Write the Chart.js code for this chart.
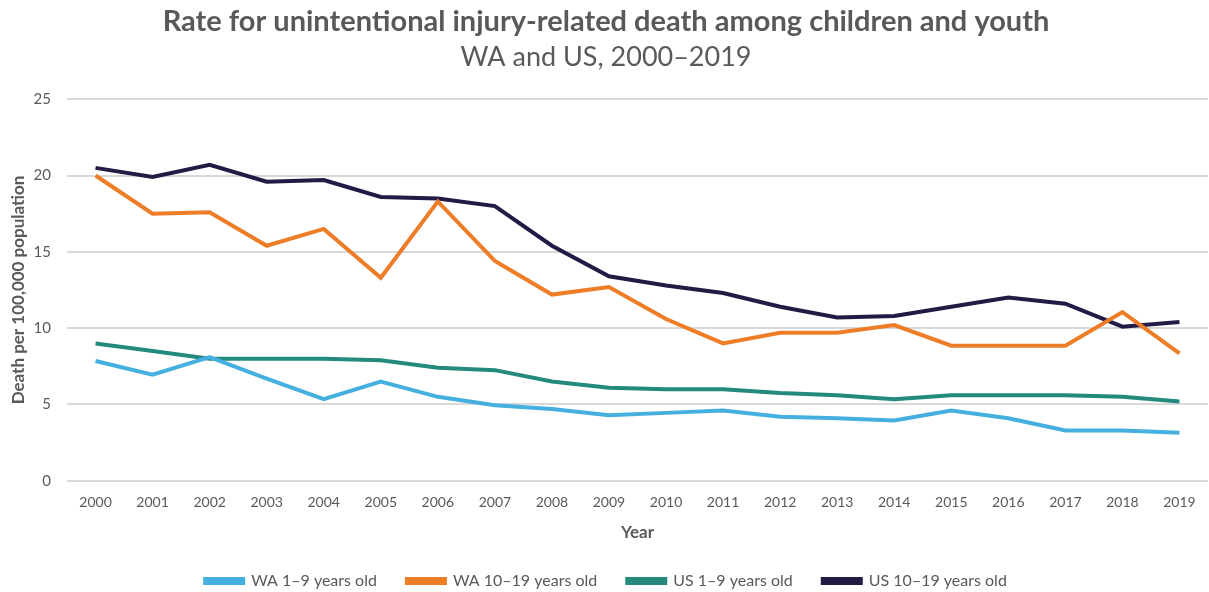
<!DOCTYPE html>
<html>
<head>
<meta charset="utf-8">
<script src="https://cdn.jsdelivr.net/npm/chart.js@4/dist/chart.umd.min.js"></script>
<style>
  html, body { margin: 0; padding: 0; background: #fff; }
  #wrap { width: 1209px; height: 592px; }
</style>
</head>
<body>
<div id="wrap"><canvas id="chart"></canvas></div>
<script>
// Injury death rates per 100,000
const years = ['2000', '2001', '2002', '2003', '2004', '2005', '2006', '2007', '2008', '2009',
               '2010', '2011', '2012', '2013', '2014', '2015', '2016', '2017', '2018', '2019'];

const wa1to9 = [7.85, 6.95, 8.1, 6.7, 5.35, 6.5, 5.5, 4.95, 4.7, 4.3,
                4.45, 4.6, 4.2, 4.1, 3.95, 4.6, 4.1, 3.3, 3.3, 3.15];
const wa10to19 = [20.0, 17.5, 17.6, 15.4, 16.5, 13.3, 18.3, 14.4, 12.2, 12.7,
                  10.6, 9.0, 9.7, 9.7, 10.2, 8.85, 8.85, 8.85, 11.05, 8.35];
const us1to9 = [9.0, 8.5, 8.0, 8.0, 8.0, 7.9, 7.4, 7.25, 6.5, 6.1,
                6.0, 6.0, 5.75, 5.6, 5.35, 5.6, 5.6, 5.6, 5.5, 5.2];
const us10to19 = [20.5, 19.9, 20.7, 19.6, 19.7, 18.6, 18.5, 18.0, 15.4, 13.4,
                  12.8, 12.3, 11.4, 10.7, 10.8, 11.4, 12.0, 11.6, 10.1, 10.4];

const yTicks = [0, 5, 10, 15, 20, 25];

const FONT = 'Lato, "Open Sans", sans-serif';
const TEXT = '#595959';

function series(label, data, color) {
    return {
        label,
        data,
        borderColor: color,
        backgroundColor: color,
        borderWidth: 4,
        pointRadius: 0,
        tension: 0,
        fill: false,
    };
}

new Chart(document.getElementById('chart'), {
    type: 'line',
    data: {
        labels: years,
        datasets: [
            series('WA 1\u20139 years old', wa1to9, '#45b0e0'),
            series('WA 10\u201319 years old', wa10to19, '#ee7d27'),
            series('US 1\u20139 years old', us1to9, '#238a7c'),
            series('US 10\u201319 years old', us10to19, '#231a46'),
        ],
    },
    options: {
        responsive: true,
        maintainAspectRatio: false,
        animation: false,
        layout: { padding: { top: 4, right: 1, bottom: -7, left: 4 } },
        plugins: {
            title: {
                display: true,
                text: 'Rate for unintentional injury-related death among children and youth',
                color: TEXT,
                font: { family: FONT, size: 29, weight: 'bold' },
                padding: { top: 0, bottom: 2 },
            },
            subtitle: {
                display: true,
                text: 'WA and US, 2000\u20132019',
                color: TEXT,
                font: { family: FONT, size: 27 },
                padding: { top: 0, bottom: 26 },
            },
            legend: {
                position: 'bottom',
                labels: {
                    color: TEXT,
                    font: { family: FONT, size: 16 },
                    boxWidth: 38,
                    boxHeight: 4,
                    padding: 30,
                },
            },
            tooltip: { enabled: false },
        },
        scales: {
            x: {
                offset: true,
                grid: { display: false },
                border: { display: false },
                ticks: { color: TEXT, font: { family: FONT, size: 14 }, padding: 5 },
                title: {
                    display: true,
                    text: 'Year',
                    color: TEXT,
                    font: { family: FONT, size: 17, weight: 'bold' },
                    padding: { top: 7, bottom: 0 },
                },
            },
            y: {
                min: 0,
                max: 25,
                afterBuildTicks: axis => { axis.ticks = yTicks.map(v => ({ value: v })); },
                afterFit: axis => { axis.width = 63; },
                grid: { color: '#d9d9d9', lineWidth: 2, drawTicks: false },
                border: { display: false },
                ticks: { color: TEXT, font: { family: FONT, size: 15 }, padding: 16 },
                title: {
                    display: true,
                    text: 'Death per 100,000 population',
                    color: TEXT,
                    font: { family: FONT, size: 17, weight: 'bold' },
                    padding: { top: 4, bottom: 0 },
                },
            },
        },
    },
});
</script>
</body>
</html>
